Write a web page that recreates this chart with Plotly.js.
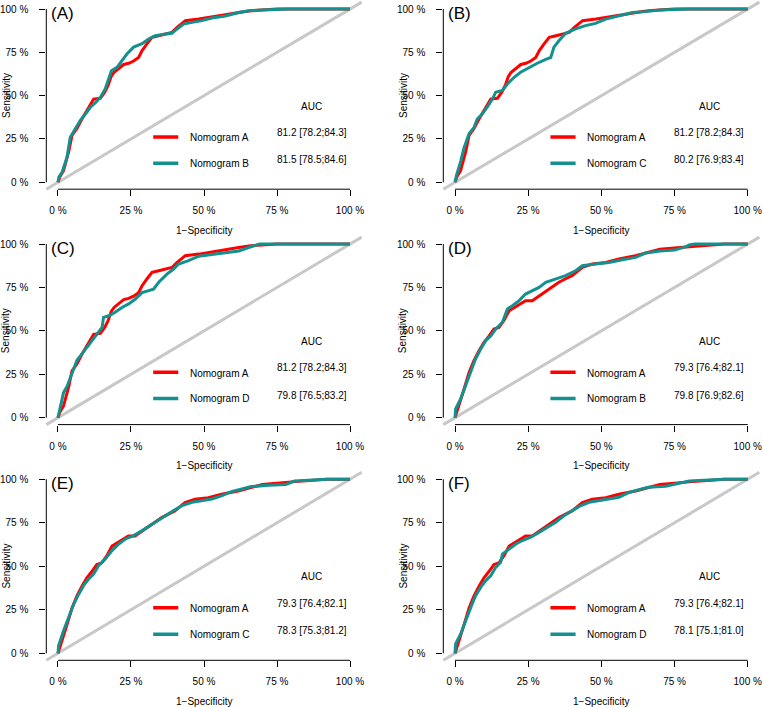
<!DOCTYPE html>
<html>
<head>
<meta charset="utf-8">
<script src="https://cdn.plot.ly/plotly-3.0.1.min.js"></script>
<style>
  html, body { margin: 0; padding: 0; background: #ffffff; }
  #chart { width: 762px; height: 708px; }
</style>
</head>
<body>
<div id="chart"></div>
<script>
// ROC curves: Nomogram A compared with Nomograms B, C and D in two cohorts.

// Cohort 1 (panels A-C)
const fprA1  = [0, 0.006, 0.019, 0.030, 0.037, 0.048, 0.065, 0.082, 0.094, 0.105, 0.122, 0.145, 0.160, 0.172, 0.182, 0.192, 0.208, 0.225, 0.242, 0.259, 0.276, 0.288, 0.305, 0.322, 0.345, 0.368, 0.390, 0.408, 0.436, 0.482, 0.527, 0.573, 0.619, 0.660, 0.750, 1];
const sensA1 = [0, 0.030, 0.067, 0.130, 0.180, 0.270, 0.310, 0.365, 0.400, 0.430, 0.480, 0.485, 0.520, 0.560, 0.610, 0.635, 0.655, 0.680, 0.687, 0.700, 0.720, 0.760, 0.800, 0.837, 0.846, 0.856, 0.865, 0.894, 0.933, 0.942, 0.956, 0.967, 0.980, 0.990, 1, 1];

const fprB1  = [0, 0.003, 0.014, 0.031, 0.042, 0.059, 0.076, 0.094, 0.111, 0.128, 0.145, 0.162, 0.174, 0.183, 0.202, 0.219, 0.236, 0.259, 0.288, 0.310, 0.333, 0.368, 0.390, 0.408, 0.430, 0.459, 0.493, 0.527, 0.573, 0.619, 0.653, 0.700, 0.790, 1];
const sensB1 = [0, 0.030, 0.058, 0.144, 0.260, 0.310, 0.356, 0.394, 0.433, 0.460, 0.490, 0.540, 0.596, 0.644, 0.663, 0.700, 0.740, 0.780, 0.800, 0.827, 0.846, 0.856, 0.860, 0.885, 0.913, 0.923, 0.933, 0.948, 0.960, 0.980, 0.990, 0.995, 1, 1];

const fprC1  = [0, 0.005, 0.020, 0.031, 0.048, 0.065, 0.076, 0.093, 0.110, 0.128, 0.139, 0.162, 0.179, 0.202, 0.224, 0.253, 0.281, 0.310, 0.327, 0.338, 0.355, 0.378, 0.412, 0.446, 0.480, 0.515, 0.560, 0.606, 0.650, 0.700, 0.800, 1];
const sensC1 = [0, 0.040, 0.125, 0.200, 0.280, 0.317, 0.365, 0.394, 0.433, 0.480, 0.520, 0.530, 0.567, 0.606, 0.635, 0.663, 0.687, 0.710, 0.720, 0.780, 0.817, 0.860, 0.885, 0.904, 0.917, 0.942, 0.960, 0.980, 0.985, 0.995, 1, 1];

const fprD1  = [0, 0.008, 0.019, 0.031, 0.048, 0.065, 0.082, 0.099, 0.116, 0.134, 0.151, 0.156, 0.174, 0.196, 0.219, 0.242, 0.265, 0.288, 0.310, 0.327, 0.345, 0.373, 0.396, 0.413, 0.447, 0.482, 0.527, 0.573, 0.619, 0.653, 0.690, 1];
const sensD1 = [0, 0.070, 0.144, 0.180, 0.260, 0.330, 0.367, 0.405, 0.440, 0.480, 0.520, 0.578, 0.587, 0.607, 0.635, 0.655, 0.683, 0.720, 0.730, 0.740, 0.780, 0.827, 0.856, 0.885, 0.904, 0.930, 0.940, 0.950, 0.960, 0.980, 1, 1];

// Cohort 2 (panels D-F)
const fprA2  = [0, 0.014, 0.031, 0.048, 0.065, 0.082, 0.099, 0.116, 0.133, 0.150, 0.167, 0.185, 0.202, 0.224, 0.241, 0.264, 0.287, 0.310, 0.332, 0.355, 0.378, 0.400, 0.435, 0.469, 0.515, 0.560, 0.617, 0.651, 0.700, 0.800, 0.900, 0.920, 1];
const sensA2 = [0, 0.070, 0.165, 0.260, 0.330, 0.385, 0.434, 0.470, 0.510, 0.520, 0.560, 0.616, 0.635, 0.655, 0.674, 0.674, 0.700, 0.730, 0.750, 0.780, 0.800, 0.818, 0.866, 0.885, 0.894, 0.914, 0.933, 0.948, 0.970, 0.985, 0.995, 1, 1];

const fprB2  = [0, 0.002, 0.019, 0.036, 0.054, 0.070, 0.088, 0.105, 0.122, 0.139, 0.162, 0.179, 0.196, 0.219, 0.241, 0.264, 0.287, 0.310, 0.344, 0.378, 0.412, 0.435, 0.480, 0.526, 0.572, 0.617, 0.651, 0.700, 0.750, 0.790, 0.800, 0.820, 1];
const sensB2 = [0, 0.050, 0.107, 0.184, 0.270, 0.338, 0.395, 0.443, 0.470, 0.510, 0.550, 0.626, 0.645, 0.674, 0.712, 0.730, 0.750, 0.780, 0.800, 0.818, 0.846, 0.875, 0.885, 0.894, 0.910, 0.923, 0.948, 0.960, 0.965, 0.985, 0.995, 1, 1];

const fprC2  = [0, 0.002, 0.019, 0.037, 0.054, 0.071, 0.088, 0.105, 0.122, 0.139, 0.162, 0.185, 0.208, 0.231, 0.259, 0.288, 0.316, 0.345, 0.368, 0.396, 0.425, 0.459, 0.493, 0.527, 0.562, 0.596, 0.630, 0.662, 0.720, 0.780, 0.810, 0.920, 1];
const sensC2 = [0, 0.044, 0.130, 0.207, 0.283, 0.340, 0.390, 0.427, 0.456, 0.504, 0.542, 0.590, 0.628, 0.657, 0.676, 0.705, 0.734, 0.762, 0.790, 0.820, 0.849, 0.868, 0.877, 0.887, 0.906, 0.930, 0.944, 0.958, 0.965, 0.970, 0.990, 1, 1];

const fprD2  = [0, 0.002, 0.019, 0.036, 0.054, 0.070, 0.088, 0.105, 0.122, 0.139, 0.156, 0.162, 0.185, 0.208, 0.230, 0.259, 0.287, 0.315, 0.344, 0.372, 0.400, 0.430, 0.458, 0.492, 0.526, 0.560, 0.595, 0.629, 0.660, 0.720, 0.750, 0.800, 0.920, 1];
const sensD2 = [0, 0.054, 0.110, 0.188, 0.264, 0.330, 0.380, 0.418, 0.446, 0.494, 0.523, 0.570, 0.600, 0.628, 0.648, 0.667, 0.695, 0.724, 0.753, 0.790, 0.820, 0.849, 0.868, 0.877, 0.887, 0.897, 0.925, 0.940, 0.954, 0.960, 0.970, 0.990, 1, 1];

// Panel contents
const panelLabels  = ['(A)', '(B)', '(C)', '(D)', '(E)', '(F)'];
const refName      = 'Nomogram A';
const compareNames = ['Nomogram B', 'Nomogram C', 'Nomogram D', 'Nomogram B', 'Nomogram C', 'Nomogram D'];
const aucRef       = ['81.2 [78.2;84.3]', '81.2 [78.2;84.3]', '81.2 [78.2;84.3]', '79.3 [76.4;82.1]', '79.3 [76.4;82.1]', '79.3 [76.4;82.1]'];
const aucCompare   = ['81.5 [78.5;84.6]', '80.2 [76.9;83.4]', '79.8 [76.5;83.2]', '79.8 [76.9;82.6]', '78.3 [75.3;81.2]', '78.1 [75.1;81.0]'];
const tickValues   = [0, 0.25, 0.5, 0.75, 1];
const tickLabels   = ['0 %', '25 %', '50 %', '75 %', '100 %'];

const refCurves = [[fprA1, sensA1], [fprA1, sensA1], [fprA1, sensA1], [fprA2, sensA2], [fprA2, sensA2], [fprA2, sensA2]];
const cmpCurves = [[fprB1, sensB1], [fprC1, sensC1], [fprD1, sensD1], [fprB2, sensB2], [fprC2, sensC2], [fprD2, sensD2]];

// Styling
const RED = '#FF0000';
const TEAL = '#12918F';
const DIAG = '#C8C8C8';
const FONT = 'Liberation Sans, Arial, Helvetica, sans-serif';
const W = 762, H = 708;

// Plot regions in pixels (include the 4 % padding around 0..1)
const colLeft  = [46.3, 443.3];
const colRight = [361.7, 759.4];
const rowTop    = [2.1, 237.1, 472.3];
const rowBottom = [189.2, 424.6, 660.3];

const traces = [];
const shapes = [];
const annotations = [];
const layout = {
  width: W, height: H,
  margin: {l: 0, r: 0, t: 0, b: 0},
  paper_bgcolor: '#ffffff',
  plot_bgcolor: '#ffffff',
  font: {family: FONT, size: 10, color: '#000000'},
  showlegend: false,
  hovermode: false
};

for (let i = 0; i < 6; i++) {
  const n = i + 1;
  const sx = n === 1 ? '' : String(n);
  const xa = 'x' + sx, ya = 'y' + sx;
  const row = Math.floor(i / 2), col = i % 2;

  const axisCommon = {
    range: [-0.04, 1.04],
    tickmode: 'array',
    tickvals: tickValues,
    ticktext: tickLabels,
    ticks: 'outside',
    ticklen: 6,
    tickwidth: 1,
    tickcolor: '#000000',
    showgrid: false,
    zeroline: false,
    showline: false,
    fixedrange: true,
    tickfont: {family: FONT, size: 10, color: '#000000'}
  };
  layout['xaxis' + sx] = Object.assign({}, axisCommon, {
    domain: [colLeft[col] / W, colRight[col] / W],
    anchor: ya,
    ticklabelstandoff: 6
  });
  layout['yaxis' + sx] = Object.assign({}, axisCommon, {
    domain: [1 - rowBottom[row] / H, 1 - rowTop[row] / H],
    anchor: xa,
    ticklabelstandoff: 9
  });

  // chance line
  shapes.push({type: 'line', xref: xa + ' domain', yref: ya + ' domain',
    x0: 0, y0: 0, x1: 1, y1: 1, layer: 'below', line: {color: DIAG, width: 3}});
  // axis lines spanning 0..1
  shapes.push({type: 'line', xref: xa, yref: ya + ' domain',
    x0: 0, x1: 1, y0: 0, y1: 0, line: {color: '#000000', width: 1}});
  shapes.push({type: 'line', xref: xa + ' domain', yref: ya,
    x0: 0, x1: 0, y0: 0, y1: 1, line: {color: '#000000', width: 1}});
  // legend keys
  shapes.push({type: 'line', xref: xa, yref: ya,
    x0: 0.326, x1: 0.412, y0: 0.262, y1: 0.262, line: {color: RED, width: 3.5}});
  shapes.push({type: 'line', xref: xa, yref: ya,
    x0: 0.326, x1: 0.412, y0: 0.110, y1: 0.110, line: {color: TEAL, width: 3.5}});

  traces.push({
    type: 'scatter', mode: 'lines', xaxis: xa, yaxis: ya,
    x: refCurves[i][0], y: refCurves[i][1], name: refName,
    line: {color: RED, width: 3}, hoverinfo: 'skip'
  });
  traces.push({
    type: 'scatter', mode: 'lines', xaxis: xa, yaxis: ya,
    x: cmpCurves[i][0], y: cmpCurves[i][1], name: compareNames[i],
    line: {color: TEAL, width: 3}, hoverinfo: 'skip'
  });

  const txt = (text, x, y, extra) => Object.assign({
    text: text, xref: xa, yref: ya, x: x, y: y, showarrow: false,
    font: {family: FONT, size: 10, color: '#000000'}
  }, extra || {});

  annotations.push(txt(panelLabels[i], -0.03, 0.977, {xanchor: 'left', yanchor: 'middle', font: {family: FONT, size: 17, color: '#000000'}}));
  annotations.push(txt(refName, 0.444, 0.257, {xanchor: 'left', yanchor: 'middle'}));
  annotations.push(txt(compareNames[i], 0.444, 0.110, {xanchor: 'left', yanchor: 'middle'}));
  annotations.push(txt('AUC', 0.869, 0.44, {xanchor: 'center', yanchor: 'middle'}));
  annotations.push(txt(aucRef[i], 0.869, 0.287, {xanchor: 'center', yanchor: 'middle'}));
  annotations.push(txt(aucCompare[i], 0.869, 0.130, {xanchor: 'center', yanchor: 'middle'}));
  // axis titles
  annotations.push({text: 'Sensitivity', xref: xa + ' domain', yref: ya, x: 0, y: 0.5,
    xshift: -40, textangle: -90, showarrow: false, xanchor: 'center', yanchor: 'middle',
    font: {family: FONT, size: 10, color: '#000000'}});
  annotations.push({text: '1\u2212Specificity', xref: xa, yref: ya + ' domain', x: 0.5, y: 0,
    yshift: -41, showarrow: false, xanchor: 'center', yanchor: 'middle',
    font: {family: FONT, size: 10, color: '#000000'}});
}

layout.shapes = shapes;
layout.annotations = annotations;

Plotly.newPlot('chart', traces, layout, {staticPlot: true, displayModeBar: false});
</script>
</body>
</html>
